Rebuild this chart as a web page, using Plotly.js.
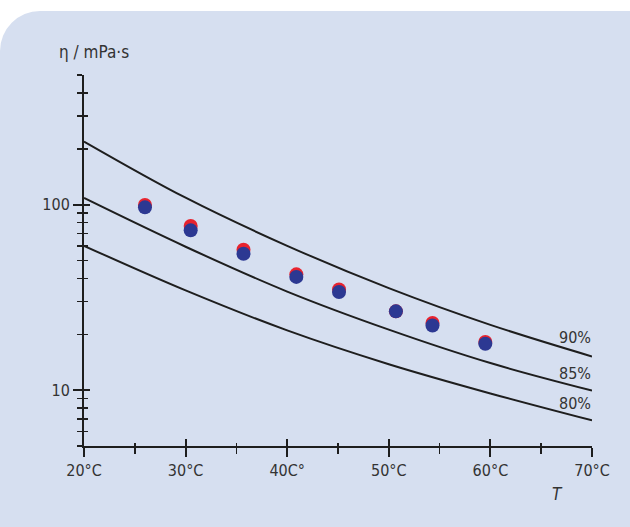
<!DOCTYPE html>
<html>
<head>
<meta charset="utf-8">
<script src="https://cdn.plot.ly/plotly-3.0.1.min.js"></script>
<style>
  html, body { margin: 0; padding: 0; background: #ffffff; width: 630px; height: 527px; overflow: hidden; }
  #panel { position: absolute; left: 0; top: 11px; width: 680px; height: 560px; background: #d6dff0; border-radius: 40px; }
  #chart { position: absolute; left: 0; top: 0; width: 630px; height: 527px; }
</style>
</head>
<body>
<div id="panel"></div>
<div id="chart"></div>
<script>
// Temperature grid for the model curves (°C)
const curveT = [20, 30, 40, 50, 60, 70];
// Viscosity curves (mPa·s) for 90 %, 85 %, 80 %
const eta90 = [219, 109, 60, 35.5, 22.5, 15.2];
const eta85 = [108.6, 59.3, 34.0, 21.2, 14.0, 9.95];
const eta80 = [60, 34.5, 21.0, 13.8, 9.6, 6.87];
const curveNames = ['90%', '85%', '80%'];

// Measured points
const pointT = [26.0, 30.5, 35.7, 40.9, 45.1, 50.7, 54.3, 59.5];
const etaRed = [99.5, 76.8, 57.2, 42.1, 34.9, 26.6, 23.0, 18.2];
const etaBlue = [96.7, 72.7, 54.4, 40.8, 33.8, 26.6, 22.3, 17.8];

// Axis ticks
const xTickVals = [20, 30, 40, 50, 60, 70];
const xTickText = ['20°C', '30°C', '40C°', '50°C', '60°C', '70°C'];
const xMinorVals = [25, 35, 45, 55, 65];
const yTickVals = [10, 100];
const yTickText = ['10', '100'];
const yMinorVals = [5, 6, 7, 8, 9, 20, 30, 40, 50, 60, 70, 80, 90, 200, 300, 400, 500];

const FONT = '"Liberation Sans Narrow", "DejaVu Sans Condensed", "Liberation Sans", sans-serif';
const FS = 16;
const TXT = '#333333';
const LINE = '#1e1e1e';

const curves = [eta90, eta85, eta80].map((ys, i) => ({
  x: curveT, y: ys, type: 'scatter', mode: 'lines', name: curveNames[i],
  line: {color: LINE, width: 2, shape: 'spline', smoothing: 1.0},
  hoverinfo: 'skip', showlegend: false
}));

const red = {
  x: pointT, y: etaRed, type: 'scatter', mode: 'markers',
  marker: {color: '#e8232e', size: 14, line: {width: 0}},
  showlegend: false, hoverinfo: 'skip'
};
const blue = {
  x: pointT, y: etaBlue, type: 'scatter', mode: 'markers',
  xaxis: 'x2', yaxis: 'y2',
  marker: {color: '#2c3892', size: 14, line: {width: 0}},
  showlegend: false, hoverinfo: 'skip'
};

const yRange = [Math.log10(5), Math.log10(500)];
const xRange = [20, 70];

const layout = {
  width: 630, height: 527,
  margin: {l: 84, r: 38, t: 75, b: 81},
  paper_bgcolor: 'rgba(0,0,0,0)',
  plot_bgcolor: 'rgba(0,0,0,0)',
  font: {family: FONT, size: FS, color: TXT},
  xaxis: {
    range: xRange, showgrid: false, zeroline: false,
    showline: true, linecolor: LINE, linewidth: 2,
    tickmode: 'array', tickvals: xTickVals, ticktext: xTickText,
    ticks: 'outside', ticklen: 9, tickwidth: 2, tickcolor: LINE,
    minor: {tickmode: 'array', tickvals: xMinorVals, ticks: 'outside', ticklen: 6, tickwidth: 1.5, tickcolor: LINE, showgrid: false},
    tickfont: {family: FONT, size: FS, color: TXT}
  },
  yaxis: {
    type: 'log', range: yRange, showgrid: false, zeroline: false,
    showline: true, linecolor: LINE, linewidth: 2,
    tickmode: 'array', tickvals: yTickVals, ticktext: yTickText,
    ticks: 'outside', ticklen: 9, tickwidth: 2, tickcolor: LINE,
    minor: {tickmode: 'array', tickvals: yMinorVals, ticks: 'outside', ticklen: 5, tickwidth: 1.5, tickcolor: LINE, showgrid: false},
    tickfont: {family: FONT, size: FS, color: TXT}
  },
  xaxis2: {
    overlaying: 'x', anchor: 'y2', range: xRange, showgrid: false, zeroline: false,
    showline: false, showticklabels: false,
    tickmode: 'array', tickvals: xTickVals,
    ticks: 'inside', ticklen: 7, tickwidth: 2, tickcolor: LINE,
    minor: {tickmode: 'array', tickvals: xMinorVals, ticks: 'inside', ticklen: 3, tickwidth: 1.5, tickcolor: LINE, showgrid: false}
  },
  yaxis2: {
    overlaying: 'y', anchor: 'x2', type: 'log', range: yRange, showgrid: false, zeroline: false,
    showline: false, showticklabels: false,
    tickmode: 'array', tickvals: yTickVals,
    ticks: 'inside', ticklen: 6, tickwidth: 2, tickcolor: LINE,
    minor: {tickmode: 'array', tickvals: yMinorVals, ticks: 'inside', ticklen: 4, tickwidth: 1.5, tickcolor: LINE, showgrid: false}
  },
  annotations: [
    {text: 'η / mPa·s', xref: 'paper', yref: 'paper', x: -0.053, y: 1.062, xanchor: 'left', yanchor: 'middle', showarrow: false, font: {family: FONT, size: 17, color: TXT}},
    {text: '<i>T</i>', xref: 'paper', yref: 'paper', x: 0.933, y: -0.129, xanchor: 'center', yanchor: 'middle', showarrow: false, font: {family: FONT, size: 17, color: TXT}},
    {text: curveNames[0], xref: 'x', yref: 'y', x: 70, y: 1.283, xanchor: 'right', yanchor: 'middle', showarrow: false, xshift: 1},
    {text: curveNames[1], xref: 'x', yref: 'y', x: 70, y: 1.089, xanchor: 'right', yanchor: 'middle', showarrow: false, xshift: 1},
    {text: curveNames[2], xref: 'x', yref: 'y', x: 70, y: 0.927, xanchor: 'right', yanchor: 'middle', showarrow: false, xshift: 1}
  ]
};

Plotly.newPlot('chart', curves.concat([red, blue]), layout, {displayModeBar: false, staticPlot: true});
</script>
</body>
</html>
